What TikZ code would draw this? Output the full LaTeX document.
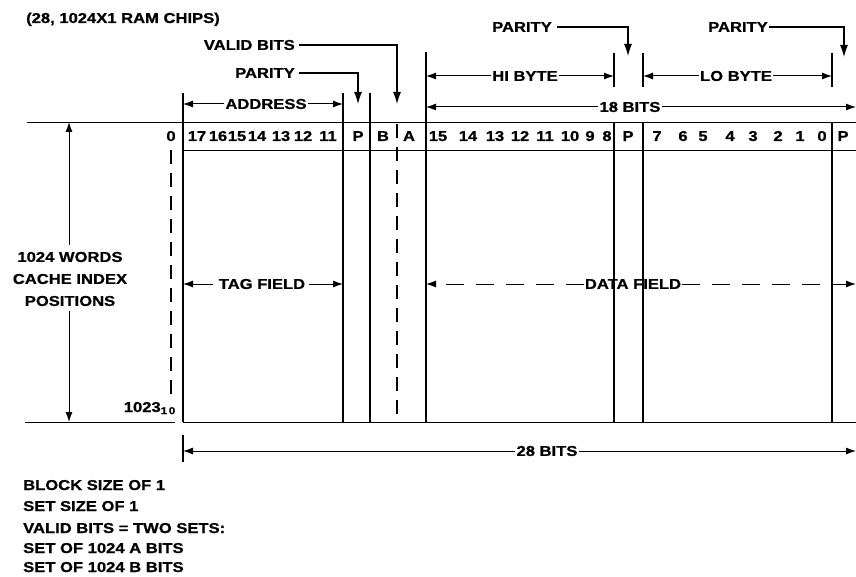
\documentclass[tikz,border=0pt]{standalone}
\usepackage{fontspec}
\newfontfamily\lbl[FakeStretch=1.16, BoldFeatures={FakeBold=0.8}]{Liberation Sans}
\usetikzlibrary{arrows.meta}
\tikzset{
  every node/.style={font=\lbl\bfseries\fontsize{14.3}{22}\selectfont, inner sep=1pt},
  heavy/.style={line width=2pt},
  thin/.style={line width=0.9pt},
  dim/.style={line width=1pt, -{Latex[length=10pt,width=7pt]}},
  pointer/.style={line width=1.1pt, -{Latex[length=12pt,width=8pt]}},
  dimdash/.style={dim, dash pattern=on 18pt off 12pt},
  vdash/.style={line width=1.4pt, dash pattern=on 14pt off 9pt},
  num/.style={anchor=base}
}
\begin{document}
\begin{tikzpicture}[x=1pt,y=-1pt]
\useasboundingbox (0,0) rectangle (856,577);

% title
\node[anchor=base west] (chips) at (25,23) {(28, 1024X1 RAM CHIPS)};

% grid lines
\coordinate (tl) at (27,122);   \coordinate (tr) at (856,122);
\coordinate (ml) at (183,150);  \coordinate (mr) at (856,150);
\coordinate (bl1) at (25,422);  \coordinate (bl2) at (175,422);
\coordinate (bb1) at (183,422); \coordinate (bb2) at (856,422);
\draw[thin] (tl) -- (tr);
\draw[thin] (ml) -- (mr);
\draw[thin] (bl1) -- (bl2);
\draw[thin] (bb1) -- (bb2);

% column lines with extensions
\foreach \x/\t in {183/93, 343/93, 370/93, 426/52}{
  \coordinate (c\x t) at (\x,\t);
  \coordinate (c\x b) at (\x,422);
  \draw[heavy] (c\x t) -- (c\x b);
}
\foreach \x in {614, 643, 832}{
  \coordinate (e\x t) at (\x,53);
  \coordinate (e\x m) at (\x,87);
  \coordinate (c\x t) at (\x,122);
  \coordinate (c\x b) at (\x,422);
  \draw[heavy] (e\x t) -- (e\x m);
  \draw[heavy] (c\x t) -- (c\x b);
}
\coordinate (ext1) at (183,435); \coordinate (ext2) at (183,462);
\draw[heavy] (ext1) -- (ext2);

% dashed lines
\coordinate (ba1) at (397,124); \coordinate (ba2) at (397,422);
\draw[vdash] (ba1) -- (ba2);
\coordinate (zd1) at (171,150); \coordinate (zd2) at (171,396);
\draw[vdash] (zd1) -- (zd2);

% bit numbers
\node[num] (zero) at (171,141) {0};
\foreach \x/\n [count=\i] in {197/17,218/16,237/15,257/14,281/13,303/12,328/11,
  358/P,383/B,409/A,
  438/15,468/14,495/13,520/12,545/11,570/10,590/9,607/8,
  628/P,657/7,683/6,703/5,730/4,753/3,778/2,800/1,822/0,843/P}{
  \node[num] (b\i) at (\x,141) {\n};
}
\node[anchor=base east] (last) at (177,412) {1023\textsubscript{1\,0}};

% valid bits / parity pointers
\node[anchor=east] (valid) at (296,45) {VALID BITS};
\coordinate (vtip) at (397,104);
\draw[pointer] (valid.east) ++(3,0) -| (vtip);
\node[anchor=east] (par1) at (296,73) {PARITY};
\coordinate (p1tip) at (358,104);
\draw[pointer] (par1.east) ++(3,0) -| (p1tip);
\node (par2) at (522,27) {PARITY};
\coordinate (p2tip) at (628,56);
\draw[pointer] (par2.east) ++(4,0) -| (p2tip);
\node (par3) at (738,27) {PARITY};
\coordinate (p3tip) at (844,57);
\draw[pointer] (par3.east) -| (p3tip);

% dimension arrows
\node (addr) at (266,104) {ADDRESS};
\coordinate (addrL) at (183,104); \coordinate (addrR) at (343,104);
\draw[dim] (addr.west) -- (addrL);
\draw[dim] (addr.east) -- (addrR);

\node (hi) at (525,76) {HI BYTE};
\coordinate (hiL) at (426,76); \coordinate (hiR) at (614,76);
\draw[dim] (hi.west) -- (hiL);
\draw[dim] (hi.east) -- (hiR);

\node (lo) at (736,76) {LO BYTE};
\coordinate (loL) at (643,76); \coordinate (loR) at (832,76);
\draw[dim] (lo.west) -- (loL);
\draw[dim] (lo.east) -- (loR);

\node (eighteen) at (630,107) {18 BITS};
\coordinate (eL) at (426,107); \coordinate (eR) at (856,107);
\draw[dim] (eighteen.west) -- (eL);
\draw[dim] (eighteen.east) -- (eR);

\node (tag) at (262,284) {TAG FIELD};
\coordinate (tagL) at (183,284); \coordinate (tagR) at (343,284);
\draw[dim] (tag.west) ++(-5,0) -- (tagL);
\draw[dim] (tag.east) ++(3,0) -- (tagR);

\node (data) at (633,284) {DATA FIELD};
\coordinate (dL) at (426,284); \coordinate (dR) at (856,284);
\draw[dimdash] (data.west) -- (dL);
\draw[dimdash] (data.east) -- (dR);

\node (twentyeight) at (547,451) {28 BITS};
\coordinate (tL) at (183,451); \coordinate (tR) at (856,451);
\draw[dim] (twentyeight.west) -- (tL);
\draw[dim] (twentyeight.east) -- (tR);

% left vertical
\node[align=center] (words) at (70,279) {1024 WORDS\\CACHE INDEX\\POSITIONS};
\coordinate (wT) at (69,122); \coordinate (wB) at (69,422);
\draw[dim] (words.north) ++(-1,-6) -- (wT);
\draw[dim] (words.south) ++(-1,4) -- (wB);

% notes
\node[anchor=base west] (n1) at (22,490) {BLOCK SIZE OF 1};
\node[anchor=base west] (n2) at (22,511) {SET SIZE OF 1};
\node[anchor=base west] (n3) at (22,533) {VALID BITS = TWO SETS:};
\node[anchor=base west] (n4) at (22,553) {SET OF 1024 A BITS};
\node[anchor=base west] (n5) at (22,572) {SET OF 1024 B BITS};
\end{tikzpicture}
\end{document}
